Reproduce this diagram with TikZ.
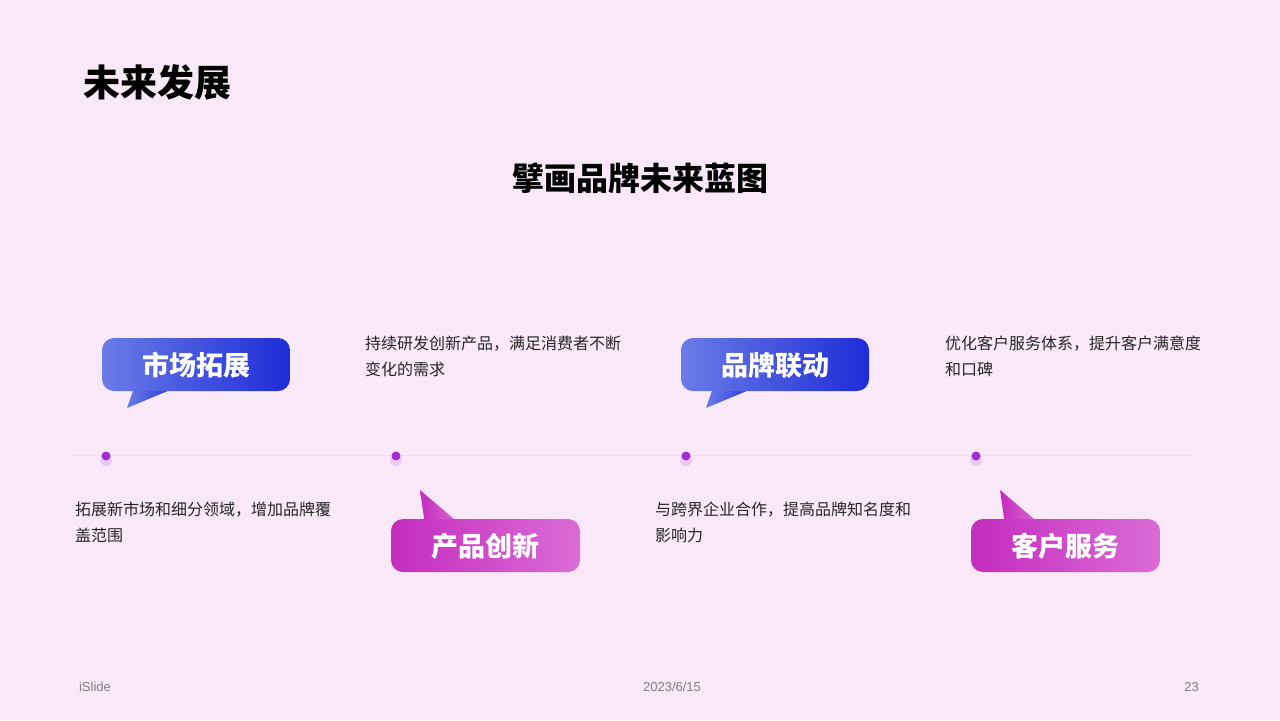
\documentclass[tikz,border=0pt]{standalone}
\usepackage{fontspec}
\setmainfont{Noto Sans CJK SC}
\newfontfamily\footfont{Liberation Sans}
\definecolor{bgpink}{HTML}{F9E8F8}
\definecolor{blueL}{HTML}{6A7CE8}
\definecolor{blueD}{HTML}{1E2CD6}
\definecolor{pinkL}{HTML}{DA6CD6}
\definecolor{pinkD}{HTML}{C42CBD}
\definecolor{dotc}{HTML}{A22CD0}
\tikzset{
  desc/.style={anchor=north west,align=left,font=\fontsize{8}{13}\selectfont,text=black!85},
  tagtext/.style={text=white,font=\fontsize{13.5}{14}\selectfont\bfseries},
  foot/.style={font=\footfont\fontsize{6.5}{7}\selectfont,text=black!50}
}
\begin{document}
\begin{tikzpicture}[x=0.5pt,y=-0.5pt]
  \useasboundingbox[fill=bgpink] (0,0) rectangle (1280,720);
  % titles
  \node[anchor=west,font=\fontsize{18.5}{19}\selectfont\bfseries] (title) at (76,82) {未来发展};
  \node[font=\fontsize{16}{17}\selectfont\bfseries] (sub) at (640,178) {擘画品牌未来蓝图};
  % timeline
  \coordinate (l0) at (68,455);
  \coordinate (l1) at (1192,455);
  \draw[line width=0.5pt,color=black!10] (l0) -- (l1);
  \foreach \x/\n in {106/d1,396/d2,686/d3,976/d4}{
    \fill[dotc!25] (\x,460) circle (6);
    \fill[dotc] (\x,456) circle (4.5) coordinate (\n);
  }
  % top callouts
  \foreach \x/\t/\n in {102/市场拓展/c1,681/品牌联动/c3}{
    \shade[left color=blueL,right color=blueD] (\x+25,408) -- (\x+33,385) -- (\x+80,385) -- cycle;
    \shade[left color=blueL,right color=blueD,rounded corners=6] (\x,338) rectangle (\x+188,391);
    \node[tagtext] (\n) at (\x+94,365) {\t};
  }
  % bottom callouts
  \foreach \x/\t/\n in {391/产品创新/c2,971/客户服务/c4}{
    \shade[left color=pinkD,right color=pinkL] (\x+29,490) -- (\x+34,525) -- (\x+70,525) -- cycle;
    \shade[left color=pinkD,right color=pinkL,rounded corners=6] (\x,519) rectangle (\x+189,572);
    \node[tagtext] (\n) at (\x+94.5,546) {\t};
  }
  % descriptions
  \node[desc] (t1) at (68,495) {拓展新市场和细分领域，增加品牌覆\\盖范围};
  \node[desc] (t2) at (358,329) {持续研发创新产品，满足消费者不断\\变化的需求};
  \node[desc] (t3) at (648,495) {与跨界企业合作，提高品牌知名度和\\影响力};
  \node[desc] (t4) at (938,329) {优化客户服务体系，提升客户满意度\\和口碑};
  % footer
  \node[foot,anchor=west] (f1) at (72,687) {iSlide};
  \node[foot] (f2) at (672,687) {2023/6/15};
  \node[foot,anchor=east] (f3) at (1206,687) {23};
\end{tikzpicture}
\end{document}
